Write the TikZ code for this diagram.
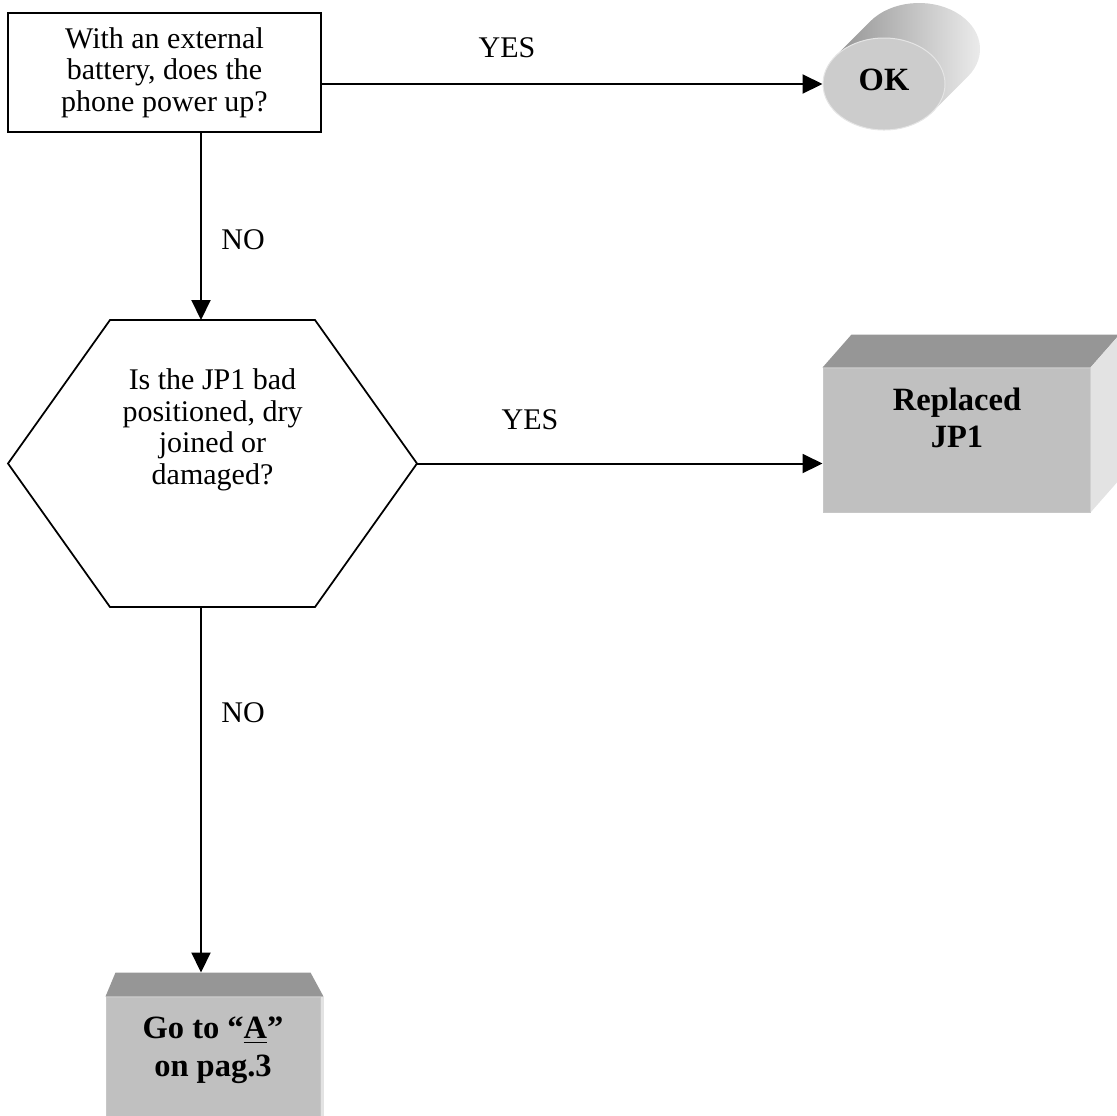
\documentclass[tikz,border=0pt]{standalone}
\usepackage{fontspec}
\setmainfont{Liberation Serif}
\usetikzlibrary{shapes.geometric, arrows.meta, positioning}
\newlength{\pixel}
\setlength{\pixel}{0.4pt}
\definecolor{facegray}{HTML}{C0C0C0}
\definecolor{topgray}{HTML}{969696}
\definecolor{sidegray}{HTML}{E3E3E3}
\tikzstyle{block} = [rectangle, draw, line width=0.8pt, align=center, minimum width=313\pixel, minimum height=119\pixel]
\tikzstyle{arrow} = [line width=0.8pt, -{Triangle[length=8pt, width=7.6pt]}]
\tikzstyle{answer} = [font=\fontsize{13}{15}\selectfont\bfseries, align=center]
\tikzstyle{face} = [rectangle, fill=facegray, draw=black!22, line width=0.4pt]
\begin{document}
\begin{tikzpicture}[x=\pixel, y=-\pixel, font=\fontsize{12}{12.6}\selectfont]
    \useasboundingbox (0,0) rectangle (1117,1115);
    \clip (0,0) rectangle (1117,1115);

    % First question
    \node (power_q) [block] at (164.5,72.5) {With an external\\battery, does the\\phone power up?};

    % OK cylinder, body first
    \shade [left color=black!42, right color=black!6] (835.3,56.3) -- (870.3,21.3)
        arc[start angle=217, end angle=397, x radius=61, y radius=46] -- (932.7,111.7) -- cycle;
    \node (ok) [ellipse, fill=black!20, draw=black!10, minimum width=122\pixel, minimum height=92\pixel, answer,
        text height=8.8pt, text depth=3.6pt] at (884,84) {OK};

    % Second question (hexagon)
    \node (jp1_q) [minimum width=409\pixel, minimum height=287\pixel, outer sep=0pt] at (212.5,463.5) {};
    \draw [line width=0.7pt] (jp1_q.west) -- ([xshift=102\pixel]jp1_q.north west) -- ([xshift=-102\pixel]jp1_q.north east)
        -- (jp1_q.east) -- ([xshift=-102\pixel]jp1_q.south east) -- ([xshift=102\pixel]jp1_q.south west) -- cycle;
    \node (jp1_text) [align=center] at (212.5,430) {Is the JP1 bad\\positioned, dry\\joined or\\damaged?};

    % Replaced JP1 box
    \node (replaced) [face, minimum width=267\pixel, minimum height=144\pixel] at (956.5,440) {};
    \fill [topgray] (replaced.north west) -- ++(29,-33) -- ([shift={(29,-33)}]replaced.north east) -- (replaced.north east) -- cycle;
    \fill [sidegray] (replaced.north east) -- ++(29,-33) -- ([shift={(29,-33)}]replaced.south east) -- (replaced.south east) -- cycle;
    \node (replaced_text) [answer] at (957,418) {Replaced\\JP1};

    % Go to A box
    \node (goto) [face, minimum width=214\pixel, minimum height=140\pixel] at (213,1067) {};
    \fill [topgray] (goto.north west) -- ++(10,-24) -- ([shift={(-10,-24)}]goto.north east) -- ([xshift=3\pixel]goto.north east) -- cycle;
    \fill [sidegray] (goto.north east) -- ([xshift=3\pixel]goto.north east) -- ([xshift=3\pixel]goto.south east) -- (goto.south east) -- cycle;
    \node (goto_text) [answer] at (213,1050) {Go to “\underline{A}”\\on pag.3};

    % ==== Arrows
    \draw [arrow] (power_q.east |- ok.west) -- (ok.west);
    \draw [arrow] ([xshift=36.5\pixel]power_q.south) -- ([xshift=-11.5\pixel]jp1_q.north);
    \draw [arrow] (jp1_q.east) -- (replaced.west |- jp1_q.east);
    \draw [arrow] ([xshift=-11.5\pixel]jp1_q.south) -- ([shift={(-12,-24)}]goto.north);

    % Labels
    \node (yes_top) at (507,48) {YES};
    \node (no_top) at (243,240) {NO};
    \node (yes_mid) at (530,420) {YES};
    \node (no_bottom) at (243,713) {NO};

\end{tikzpicture}
\end{document}
